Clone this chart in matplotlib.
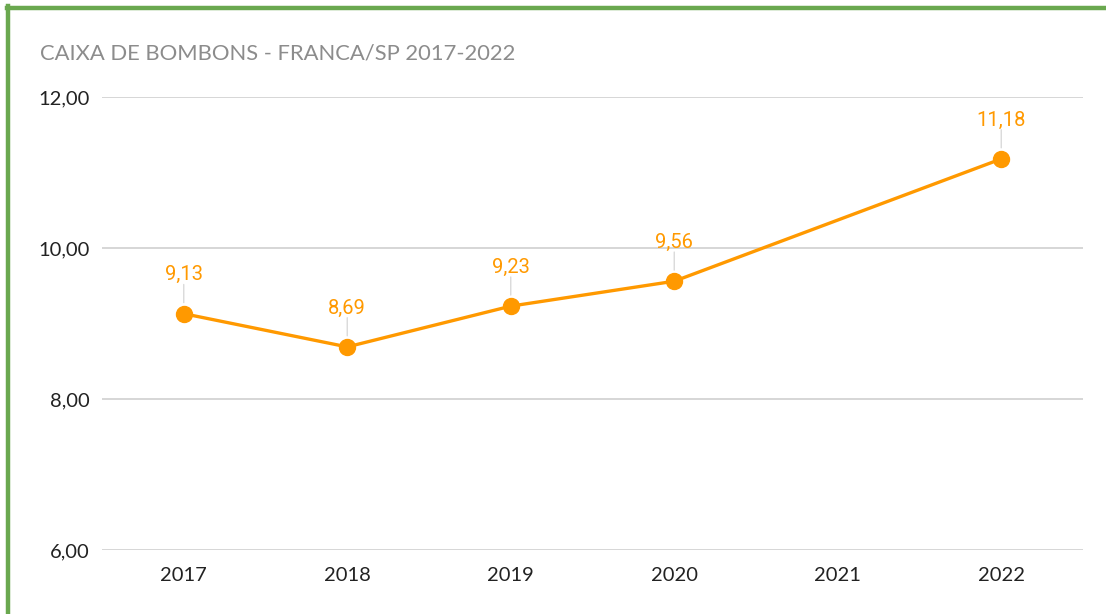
import numpy as np
import matplotlib.pyplot as plt
from matplotlib.lines import Line2D

years = ["2017", "2018", "2019", "2020", "2021", "2022"]
values = [9.13, 8.69, 9.23, 9.56, np.nan, 11.18]
yticks = [6, 8, 10, 12]
title = "CAIXA DE BOMBONS - FRANCA/SP 2017-2022"

W, H = 1106, 614
fig = plt.figure(figsize=(W / 100, H / 100), dpi=100)
fig.patch.set_facecolor("white")

ax = fig.add_axes([102 / W, 1 - 550 / H, (1083 - 102) / W, (550 - 97) / H])
ax.set_xlim(-0.5, len(years) - 0.5)
ax.set_ylim(6, 12)

x = np.arange(len(years))
vals = np.array(values, dtype=float)
mask = ~np.isnan(vals)
orange = "#FF9900"
ax.plot(x[mask], vals[mask], color=orange, lw=2.4, marker="o", ms=11.5,
        solid_capstyle="round", zorder=3)

for xi, v in zip(x[mask], vals[mask]):
    ax.annotate("", xy=(xi, v), xytext=(0, 21), textcoords="offset points",
                xycoords="data",
                arrowprops=dict(arrowstyle="-", color="#D9D9D9", lw=1.0,
                                shrinkA=0, shrinkB=8), zorder=2)
    ax.annotate(f"{v:.2f}".replace(".", ","), xy=(xi, v), xytext=(0, 28),
                textcoords="offset points", ha="center", va="center",
                color=orange, fontsize=14.5, family="Roboto", zorder=4)

ax.set_yticks(yticks)
ax.set_yticklabels([f"{t:.2f}".replace(".", ",") for t in yticks],
                   fontsize=14.5, family="Lato", color="#222222")
ax.set_xticks(x)
ax.set_xticklabels(years, fontsize=14.5, family="Lato", color="#222222")
ax.tick_params(axis="both", length=0)
ax.tick_params(axis="y", pad=9)
ax.tick_params(axis="x", pad=12)
ax.yaxis.grid(True, color="#D0D0D0", lw=1.2)
ax.set_axisbelow(True)
for s in ax.spines.values():
    s.set_visible(False)

fig.text(40 / W, 1 - 53 / H, title, fontsize=15.8, family="Lato",
         color="#8C8C8C", ha="left", va="center")

# green frame (left and top)
green = "#6AA84F"
fig.add_artist(Line2D([8 / W, 8 / W], [0, 1 - 6 / H], color=green, lw=3.2,
                      transform=fig.transFigure))
fig.add_artist(Line2D([6.5 / W, 1], [1 - 8 / H, 1 - 8 / H], color=green, lw=3.2,
                      transform=fig.transFigure))

fig.savefig("out.png", dpi=100)
